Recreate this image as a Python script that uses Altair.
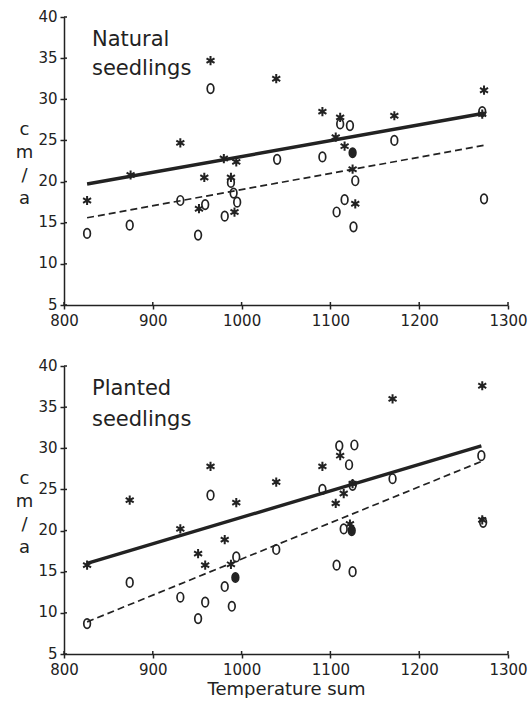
import altair as alt
import pandas as pd

# ---------------- data ----------------
panel_names = ["Natural\nseedlings", "Planted\nseedlings"]

nat_star_x = [826, 875, 931, 952, 958, 965, 980, 988, 992, 994, 1039, 1091, 1106, 1111, 1116, 1125, 1128, 1172, 1271, 1273]
nat_star_y = [17.7, 20.8, 24.7, 16.7, 20.5, 34.7, 22.8, 20.5, 16.3, 22.4, 32.5, 28.5, 25.4, 27.8, 24.3, 21.5, 17.3, 28.0, 28.2, 31.1]
nat_circ_x = [826, 874, 931, 951, 959, 965, 981, 988, 991, 995, 1040, 1091, 1107, 1111, 1116, 1122, 1125, 1126, 1128, 1172, 1271, 1273]
nat_circ_y = [13.7, 14.7, 17.7, 13.5, 17.2, 31.3, 15.8, 19.9, 18.6, 17.5, 22.7, 23.0, 16.3, 27.0, 17.8, 26.8, 23.5, 14.5, 20.1, 25.0, 28.5, 17.9]
nat_circ_filled = [0, 0, 0, 0, 0, 0, 0, 0, 0, 0, 0, 0, 0, 0, 0, 0, 1, 0, 0, 0, 0, 0]

plant_star_x = [826, 874, 931, 951, 959, 965, 981, 988, 994, 1039, 1091, 1106, 1111, 1115, 1122, 1125, 1170, 1271, 1271]
plant_star_y = [15.8, 23.7, 20.2, 17.2, 15.8, 27.8, 18.9, 15.9, 23.4, 25.9, 27.8, 23.3, 29.1, 24.5, 20.8, 25.7, 36.0, 37.6, 21.3]
plant_circ_x = [826, 874, 931, 951, 959, 965, 981, 989, 993, 994, 1039, 1091, 1107, 1110, 1115, 1121, 1124, 1125, 1125, 1127, 1170, 1270, 1272]
plant_circ_y = [8.7, 13.7, 11.9, 9.3, 11.3, 24.3, 13.2, 10.8, 14.3, 16.8, 17.7, 25.0, 15.8, 30.3, 20.2, 28.0, 20.0, 25.5, 15.0, 30.4, 26.3, 29.1, 21.0]
plant_circ_filled = [0, 0, 0, 0, 0, 0, 0, 0, 1, 0, 0, 0, 0, 0, 0, 0, 1, 0, 0, 0, 0, 0, 0]

# regression lines: [start, end] for x and y
nat_fit_x = [826, 1273]
nat_fit_star = [19.7, 28.3]
nat_fit_circ = [15.6, 24.4]
plant_fit_x = [826, 1270]
plant_fit_star = [16.0, 30.3]
plant_fit_circ = [8.9, 28.4]

x_ticks = [800, 900, 1000, 1100, 1200, 1300]
y_ticks = [5, 10, 15, 20, 25, 30, 35, 40]

# ---------------- styling ----------------
INK = "#222222"
FONT = "DejaVu Sans"
W, H = 444, 288
STAR = "M0,-1L0,1M-0.87,-0.5L0.87,0.5M-0.87,0.5L0.87,-0.5"
OVAL = "M0,-1A0.7,1,0,1,1,0,1A0.7,1,0,1,1,0,-1Z"


def panel(name, sx, sy, cx, cy, cf, fx, fs, fc, bottom):
    xs = alt.Scale(domain=[800, 1300], nice=False, zero=False)
    ys = alt.Scale(domain=[5, 40], nice=False, zero=False)
    x_axis = alt.Axis(values=x_ticks, format="d", labelFlush=False, labelOverlap=False,
                      title="Temperature sum" if bottom else None,
                      titleFontSize=18, titleFont=FONT, titleFontWeight="normal",
                      titleColor=INK, titlePadding=3, labelPadding=4)
    y_axis = alt.Axis(values=y_ticks, format="d", labelOverlap=False, labelFlush=False,
                      title=["c", "m", "/", "a"], titleAngle=0,
                      titleX=-40, titleY=117, titleAlign="center",
                      titleBaseline="alphabetic", titleFontSize=18,
                      titleFontWeight="normal", titleFont=FONT, titleColor=INK,
                      titleLineHeight=23, labelPadding=3, labelOffset=-1)

    stars = pd.DataFrame({"x": sx, "y": sy})
    circs = pd.DataFrame({"x": cx, "y": cy, "f": cf})
    fit = pd.DataFrame({"x": fx, "s": fs, "c": fc})

    base_x = alt.X("x:Q", scale=xs, axis=x_axis)
    base_y = alt.Y("y:Q", scale=ys, axis=y_axis)

    star_layer = alt.Chart(stars).mark_point(
        shape=STAR, size=85, strokeWidth=2.0, color=INK, filled=False, opacity=1
    ).encode(x=base_x, y=base_y)

    circ_layer = alt.Chart(circs).mark_point(
        shape=OVAL, size=90, strokeWidth=1.7, color=INK, filled=False, opacity=1
    ).encode(x=alt.X("x:Q", scale=xs), y=alt.Y("y:Q", scale=ys))

    filled_layer = alt.Chart(circs).transform_filter("datum.f == 1").mark_point(
        shape=OVAL, size=85, color=INK, filled=True, opacity=1
    ).encode(x=alt.X("x:Q", scale=xs), y=alt.Y("y:Q", scale=ys))

    solid = alt.Chart(fit).mark_line(color=INK, strokeWidth=3.4).encode(
        x=alt.X("x:Q", scale=xs), y=alt.Y("s:Q", scale=ys))
    dashed = alt.Chart(fit).mark_line(color=INK, strokeWidth=1.7, strokeDash=[7, 4]).encode(
        x=alt.X("x:Q", scale=xs), y=alt.Y("c:Q", scale=ys))

    yt = alt.Chart(pd.DataFrame({"t": y_ticks})).mark_rule(color=INK, strokeWidth=1.5).encode(
        y=alt.Y("t:Q", scale=ys), x=alt.value(0), x2=alt.value(3))
    xt = alt.Chart(pd.DataFrame({"t": x_ticks})).mark_rule(color=INK, strokeWidth=1.5).encode(
        x=alt.X("t:Q", scale=xs), y=alt.value(H), y2=alt.value(H - 3))

    label = alt.Chart(pd.DataFrame({"name": [name]})).mark_text(
        align="left", baseline="alphabetic", font=FONT, fontSize=21, color=INK,
        lineBreak="\n", lineHeight=31 if bottom else 29
    ).encode(text="name:N", x=alt.value(28), y=alt.value(29))

    return alt.layer(dashed, solid, circ_layer, filled_layer, star_layer, yt, xt, label).properties(
        width=W, height=H)


top = panel(panel_names[0], nat_star_x, nat_star_y, nat_circ_x, nat_circ_y, nat_circ_filled,
            nat_fit_x, nat_fit_star, nat_fit_circ, False)
bot = panel(panel_names[1], plant_star_x, plant_star_y, plant_circ_x, plant_circ_y, plant_circ_filled,
            plant_fit_x, plant_fit_star, plant_fit_circ, True)

chart = alt.vconcat(top, bot, spacing=30).properties(
    padding={"left": 15, "top": 9, "right": 0, "bottom": 0},
    background="white",
).configure_view(stroke=None).configure_axis(
    grid=False, domainColor=INK, domainWidth=1.5, tickColor=INK, tickWidth=1.5,
    tickSize=4, labelFont=FONT, labelFontSize=15, labelColor=INK
)

chart.save("out.html", embed_options={"renderer": "svg", "actions": False})
